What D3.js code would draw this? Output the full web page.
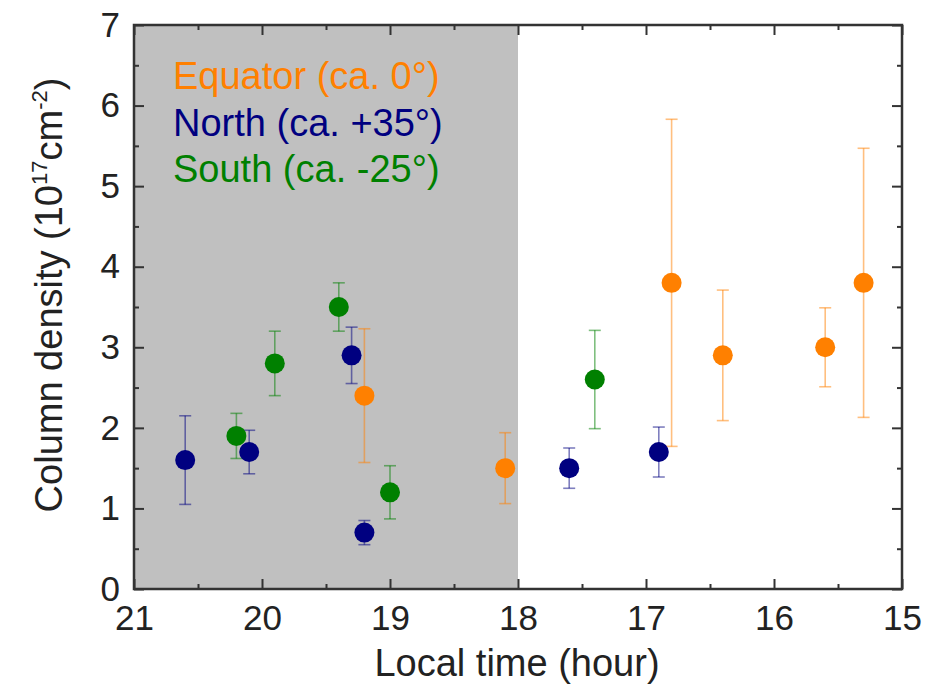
<!DOCTYPE html>
<html>
<head>
<meta charset="utf-8">
<script src="https://cdn.jsdelivr.net/npm/d3@7"></script>
<style>
  body { margin: 0; background: #fff; }
  text { font-family: "Liberation Sans", Arial, sans-serif; }
</style>
</head>
<body>
<svg id="chart"></svg>
<script>
// local time (hour), column density, symmetric error
const northTime = [20.6, 20.1, 19.3, 19.2, 17.6, 16.9];
const northVal  = [1.6, 1.7, 2.9, 0.7, 1.5, 1.7];
const northErr  = [0.55, 0.27, 0.35, 0.15, 0.25, 0.31];

const equatorTime = [19.2, 18.1, 16.8, 16.4, 15.6, 15.3];
const equatorVal  = [2.4, 1.5, 3.8, 2.9, 3.0, 3.8];
const equatorErr  = [0.83, 0.44, 2.03, 0.81, 0.49, 1.67];

const southTime = [20.2, 19.9, 19.4, 19.0, 17.4];
const southVal  = [1.9, 2.8, 3.5, 1.2, 2.6];
const southErr  = [0.28, 0.4, 0.3, 0.33, 0.61];

const legendLabels = ["Equator (ca. 0°)", "North (ca. +35°)", "South (ca. -25°)"];
const nightStart = 21, nightEnd = 18;

const W = 946, H = 687;
const margin = { top: 25, right: 44, bottom: 98, left: 134 };
const width = W - margin.left - margin.right,
  height = H - margin.top - margin.bottom;

const svg = d3.select("#chart").attr("width", W).attr("height", H);
const g = svg.append("g").attr("transform", `translate(${margin.left},${margin.top})`);

const x = d3.scaleLinear().domain([21, 15]).range([0, width]);
const y = d3.scaleLinear().domain([0, 7]).range([height, 0]);

// night shading
g.append("rect")
  .attr("x", x(nightStart))
  .attr("y", 0)
  .attr("width", x(nightEnd) - x(nightStart))
  .attr("height", height)
  .attr("fill", "#c0c0c0");

const series = [
  { name: "equator", color: "#ff8000", t: equatorTime, v: equatorVal, e: equatorErr },
  { name: "north", color: "#000080", t: northTime, v: northVal, e: northErr },
  { name: "south", color: "#008000", t: southTime, v: southVal, e: southErr }
];

// error bars first, then markers
series.forEach(s => {
  const data = s.t.map((t, i) => ({ t, v: s.v[i], e: s.e[i] }));
  const eb = g.append("g").attr("stroke", s.color).attr("stroke-opacity", 0.5).attr("stroke-width", 1.6);
  eb.selectAll("line.v").data(data).enter().append("line")
    .attr("x1", d => x(d.t)).attr("x2", d => x(d.t))
    .attr("y1", d => y(d.v - d.e)).attr("y2", d => y(d.v + d.e));
  eb.selectAll("line.top").data(data).enter().append("line")
    .attr("x1", d => x(d.t) - 6).attr("x2", d => x(d.t) + 6)
    .attr("y1", d => y(d.v + d.e)).attr("y2", d => y(d.v + d.e));
  eb.selectAll("line.bot").data(data).enter().append("line")
    .attr("x1", d => x(d.t) - 6).attr("x2", d => x(d.t) + 6)
    .attr("y1", d => y(d.v - d.e)).attr("y2", d => y(d.v - d.e));
});

series.forEach(s => {
  const data = s.t.map((t, i) => ({ t, v: s.v[i] }));
  g.append("g").selectAll("circle").data(data).enter().append("circle")
    .attr("cx", d => x(d.t))
    .attr("cy", d => y(d.v))
    .attr("r", 10)
    .attr("fill", s.color);
});

// axes: major + minor ticks pointing inward on all four sides
const axisColor = "#333";
function styleAxis(sel) {
  sel.select(".domain").remove();
  sel.selectAll(".tick line").attr("stroke", axisColor).attr("stroke-width", 2);
  sel.selectAll(".tick text").attr("fill", "#222").style("font-size", "35px");
}
const xMajor = d3.range(21, 14.9, -1);
const xMinor = d3.range(20.5, 15, -1);
const yMajor = d3.range(0, 7.1, 1);
const yMinor = d3.range(0.5, 7, 1);

g.append("g").attr("transform", `translate(0,${height})`)
  .call(d3.axisBottom(x).tickValues(xMajor).tickSize(-10).tickPadding(16).tickFormat(d3.format("d")))
  .call(styleAxis);
g.append("g").attr("transform", `translate(0,${height})`)
  .call(d3.axisBottom(x).tickValues(xMinor).tickSize(-5).tickFormat(""))
  .call(styleAxis);
g.append("g")
  .call(d3.axisTop(x).tickValues(xMajor).tickSize(-10).tickFormat(""))
  .call(styleAxis);
g.append("g")
  .call(d3.axisTop(x).tickValues(xMinor).tickSize(-5).tickFormat(""))
  .call(styleAxis);
g.append("g")
  .call(d3.axisLeft(y).tickValues(yMajor).tickSize(-10).tickPadding(14).tickFormat(d3.format("d")))
  .call(styleAxis);
g.append("g")
  .call(d3.axisLeft(y).tickValues(yMinor).tickSize(-5).tickFormat(""))
  .call(styleAxis);
g.append("g").attr("transform", `translate(${width},0)`)
  .call(d3.axisRight(y).tickValues(yMajor).tickSize(-10).tickFormat(""))
  .call(styleAxis);
g.append("g").attr("transform", `translate(${width},0)`)
  .call(d3.axisRight(y).tickValues(yMinor).tickSize(-5).tickFormat(""))
  .call(styleAxis);

// frame
g.append("rect")
  .attr("width", width).attr("height", height)
  .attr("fill", "none").attr("stroke", axisColor).attr("stroke-width", 2.5);

// legend text
g.append("g").selectAll("text").data(series).enter().append("text")
  .attr("x", 39)
  .attr("y", (d, i) => 64 + i * 46.5)
  .attr("fill", d => d.color)
  .style("font-size", "38px")
  .text((d, i) => legendLabels[i]);

// axis titles
svg.append("text")
  .attr("x", 517)
  .attr("y", 676)
  .attr("text-anchor", "middle")
  .attr("fill", "#222")
  .style("font-size", "38px")
  .text("Local time (hour)");

const yt = svg.append("text")
  .attr("transform", `translate(62,295) rotate(-90)`)
  .attr("text-anchor", "middle")
  .attr("fill", "#222")
  .style("font-size", "38px");
yt.append("tspan").text("Column density (10");
yt.append("tspan").attr("dy", -15).style("font-size", "22px").text("17");
yt.append("tspan").attr("dy", 15).text("cm");
yt.append("tspan").attr("dy", -15).style("font-size", "22px").text("-2");
yt.append("tspan").attr("dy", 15).text(")");
</script>
</body>
</html>
